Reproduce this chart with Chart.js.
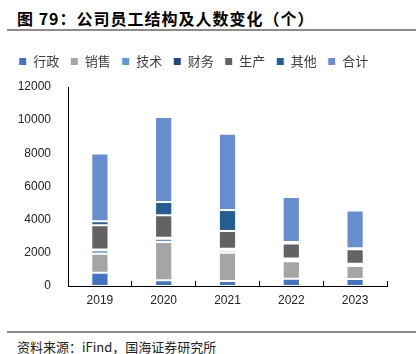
<!DOCTYPE html>
<html>
<head>
<meta charset="utf-8">
<script src="https://cdn.jsdelivr.net/npm/chart.js@4/dist/chart.umd.min.js"></script>
<style>
    body { margin: 0; width: 416px; height: 354px; background: #fff; position: relative; overflow: hidden; font-family: "Noto Sans CJK SC", sans-serif; }
    .title { position: absolute; left: 17px; top: 6px; font-size: 16px; font-weight: bold; color: #000; letter-spacing: 1px; }
    .rule { position: absolute; left: 7px; right: 0; height: 2px; background: #8c8c8c; }
    .source { position: absolute; left: 17px; top: 337px; font-size: 13px; color: #222; }
    #wrap { position: absolute; left: 0; top: 36px; width: 416px; height: 290px; }
</style>
</head>
<body>
<div class="title">图 79：公司员工结构及人数变化（个）</div>
<div class="rule" style="top:29px"></div>
<div id="wrap"><canvas id="staff-chart"></canvas></div>
<div class="rule" style="top:331px"></div>
<div class="source">资料来源：iFind，国海证券研究所</div>

<script>
    // data
    var years = ["2019", "2020", "2021", "2022", "2023"];
    var xingzheng = [800, 340, 300, 440, 420];      // 行政
    var xiaoshou = [1150, 2310, 1700, 1060, 780];   // 销售
    var jishu = [200, 200, 140, 120, 100];          // 技术
    var caiwu = [50, 60, 100, 40, 40];              // 财务
    var shengchan = [1460, 1360, 1080, 900, 880];   // 生产
    var qita = [250, 800, 1260, 100, 60];           // 其他
    var heji = [4085, 5118, 4596, 2710, 2278];      // 合计
    var y_ticks = [0, 2000, 4000, 6000, 8000, 10000, 12000];

    function series(label, data, color) {
        return {
            label: label,
            data: data,
            backgroundColor: color,
            borderColor: "#ffffff",
            borderWidth: 1,
            borderSkipped: false
        };
    }

    // keep the legend block a fixed height so the plot starts lower
    var legend_height = {
        id: 'legendHeight',
        beforeUpdate: function (chart) {
            var lg = chart.legend;
            if (lg && !lg._patched) {
                var fit = lg.fit;
                lg.fit = function () { fit.call(this); this.height = 43; };
                lg._patched = true;
            }
        }
    };

    var staff_chart_data = {
        labels: years,
        datasets: [
            series("行政", xingzheng, "#4472c4"),
            series("销售", xiaoshou, "#a5a5a5"),
            series("技术", jishu, "#5b9bd5"),
            series("财务", caiwu, "#264478"),
            series("生产", shengchan, "#636363"),
            series("其他", qita, "#255e91"),
            series("合计", heji, "#698ed0")
        ]
    };

    var staff_chart_config = {
        type: 'bar',
        data: staff_chart_data,
        plugins: [legend_height],
        options: {
            responsive: true,
            maintainAspectRatio: false,
            animation: false,
            layout: { padding: { left: 0, right: 29, top: 8, bottom: 0 } },
            datasets: { bar: { barPercentage: 0.27, categoryPercentage: 1 } },
            plugins: {
                legend: {
                    position: 'top',
                    labels: {
                        boxWidth: 8,
                        boxHeight: 8,
                        padding: 11,
                        color: "#404040",
                        font: { family: "Noto Sans CJK SC", size: 13 }
                    }
                },
                tooltip: { enabled: false }
            },
            scales: {
                x: {
                    stacked: true,
                    offset: true,
                    grid: { offset: true, drawOnChartArea: false, color: "#000", tickLength: -5 },
                    border: { color: "#000", width: 1 },
                    ticks: { color: "#222", padding: 12, font: { family: "Liberation Sans", size: 12 } },
                    afterFit: function (s) { s.height = 40; }
                },
                y: {
                    stacked: true,
                    min: 0,
                    max: 12000,
                    grid: { display: false },
                    border: { display: true, color: "#000", width: 1 },
                    afterBuildTicks: function (s) { s.ticks = y_ticks.map(function (v) { return { value: v }; }); },
                    ticks: {
                        color: "#222",
                        padding: 9,
                        font: { family: "Liberation Sans", size: 12 },
                        callback: function (v) { return String(v); }
                    },
                    afterFit: function (s) { s.width = 68; }
                }
            }
        }
    };

    var staff_chart_ctx = document.getElementById("staff-chart").getContext("2d");
    new Chart(staff_chart_ctx, staff_chart_config);
</script>
</body>
</html>
